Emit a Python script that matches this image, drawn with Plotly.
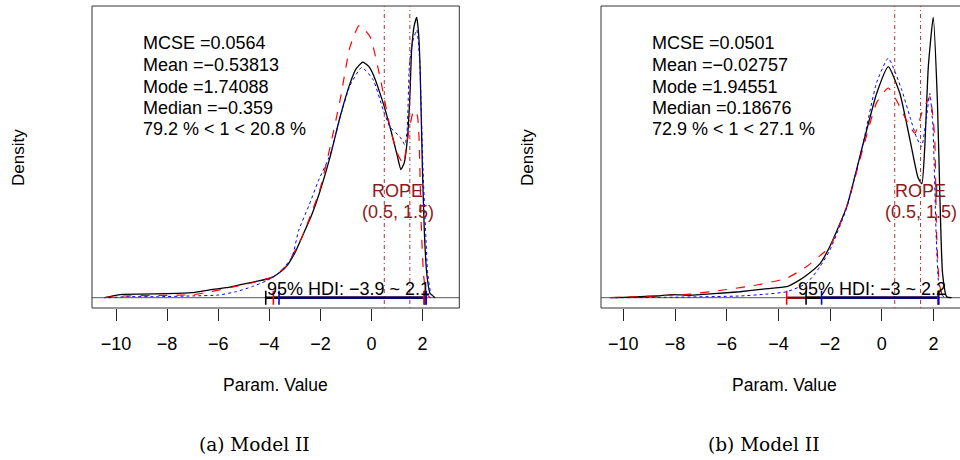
import plotly.graph_objects as go

# ---------------- data: panel (a) ----------------
a_black_x = [-10.45, -10.2, -9.77, -9.0, -8.0, -7.03, -6.37, -5.7, -5.07, -4.55, -3.9, -3.37, -3.0,
             -2.72, -2.35, -2.02, -1.62, -1.23, -0.84, -0.6, -0.34, -0.1, 0.07, 0.46, 0.79, 1.0,
             1.15, 1.28, 1.40, 1.50, 1.57, 1.67, 1.77, 1.84, 1.90, 1.99, 2.07, 2.16, 2.29, 2.49]
a_black_y = [0.0, 0.002, 0.005, 0.0054, 0.006, 0.0075, 0.0115, 0.015, 0.020, 0.024, 0.030, 0.045, 0.067,
             0.091, 0.123, 0.159, 0.211, 0.271, 0.321, 0.343, 0.353, 0.346, 0.334, 0.291, 0.246, 0.214,
             0.192, 0.202, 0.236, 0.300, 0.371, 0.407, 0.420, 0.397, 0.346, 0.196, 0.097, 0.037, 0.0066, 0.0]

a_red_x = [-10.45, -9.77, -8.5, -7.0, -6.37, -5.07, -4.55, -3.9, -3.37, -2.72, -2.02, -1.62, -1.23,
           -0.84, -0.48, -0.06, 0.33, 0.72, 1.0, 1.24, 1.45, 1.62, 1.70, 1.80, 1.86, 1.95, 2.04, 2.15, 2.3]
a_red_y = [0.0, 0.0025, 0.0033, 0.0045, 0.0085, 0.019, 0.0235, 0.031, 0.046, 0.091, 0.162, 0.226, 0.296,
           0.376, 0.408, 0.391, 0.331, 0.256, 0.217, 0.201, 0.247, 0.277, 0.281, 0.272, 0.240, 0.105, 0.033,
           0.006, 0.0]

a_blue_x = [-10.3, -9.5, -8.33, -7.0, -5.98, -5.3, -4.68, -4.1, -3.63, -3.11, -2.85, -2.45, -2.07, -1.62,
            -1.23, -0.84, -0.38, 0.07, 0.46, 0.72, 1.11, 1.31, 1.40, 1.48, 1.60, 1.77, 1.88, 2.01, 2.12,
            2.20, 2.33, 2.5]
a_blue_y = [0.0, 0.0015, 0.0015, 0.0027, 0.004, 0.009, 0.0165, 0.0255, 0.0365, 0.0614, 0.101, 0.138,
            0.176, 0.214, 0.270, 0.318, 0.345, 0.326, 0.281, 0.256, 0.241, 0.229, 0.255, 0.346, 0.382,
            0.401, 0.359, 0.197, 0.097, 0.0365, 0.006, 0.0]

# ---------------- data: panel (b) ----------------
b_black_x = [-10.5, -10.0, -8.71, -8.1, -7.42, -6.5, -5.49, -4.6, -3.68, -3.3, -2.91, -2.39, -2.01,
             -1.36, -0.72, -0.20, 0.25, 0.70, 1.09, 1.40, 1.55, 1.66, 1.80, 1.99, 2.15, 2.25, 2.35,
             2.51, 2.7]
b_black_y = [0.0, 0.0005, 0.0028, 0.005, 0.004, 0.0066, 0.0098, 0.014, 0.018, 0.026, 0.037, 0.056,
             0.084, 0.149, 0.253, 0.335, 0.379, 0.335, 0.259, 0.197, 0.187, 0.246, 0.379, 0.460, 0.324,
             0.160, 0.040, 0.0016, 0.0]

b_red_x = [-10.5, -9.35, -7.42, -6.13, -4.84, -3.68, -2.91, -2.39, -2.01, -1.36, -0.72, -0.2, 0.25,
           0.70, 1.0, 1.28, 1.55, 1.86, 1.98, 2.05, 2.12, 2.22, 2.35, 2.5]
b_red_y = [0.0, 0.0016, 0.006, 0.0126, 0.0208, 0.032, 0.051, 0.069, 0.084, 0.149, 0.246, 0.320, 0.344,
           0.313, 0.287, 0.270, 0.303, 0.330, 0.295, 0.259, 0.106, 0.024, 0.003, 0.0]

b_blue_x = [-10.3, -8.0, -5.49, -4.5, -3.68, -2.91, -2.39, -2.01, -1.36, -0.72, -0.2, 0.25, 0.77, 1.1,
            1.35, 1.54, 1.70, 1.86, 1.98, 2.10, 2.20, 2.35, 2.5]
b_blue_y = [0.0, 0.0008, 0.0028, 0.0057, 0.0098, 0.0236, 0.051, 0.078, 0.147, 0.254, 0.353, 0.393,
            0.341, 0.295, 0.262, 0.248, 0.287, 0.335, 0.279, 0.106, 0.024, 0.003, 0.0]

# ---------------- summaries ----------------
stats_a = ["MCSE =0.0564", "Mean =\u22120.53813", "Mode =1.74088", "Median =\u22120.359",
           "79.2 % < 1 < 20.8 %"]
stats_b = ["MCSE =0.0501", "Mean =\u22120.02757", "Mode =1.94551", "Median =0.18676",
           "72.9 % < 1 < 27.1 %"]
hdi_text = ["95% HDI: \u22123.9 ~ 2.1", "95% HDI: \u22123 ~ 2.2"]
# per-chain HDI limits: (black, red, blue)
hdi_a = {"black": (-4.14, 2.09), "red": (-3.84, 2.05), "blue": (-3.62, 2.14)}
hdi_b = {"black": (-2.93, 2.20), "red": (-3.68, 2.18), "blue": (-2.33, 2.19)}
rope = (0.5, 1.5)
captions = ["(a) Model II", "(b) Model II"]
tick_vals = [-10, -8, -6, -4, -2, 0, 2]
tick_text = ["\u221210", "\u22128", "\u22126", "\u22124", "\u22122", "0", "2"]

W, H = 960, 460
SANS = "Liberation Sans, Arial, sans-serif"
SERIF = "DejaVu Serif, serif"


def px(x):
    return x / W


def py(y):
    return 1 - y / H


fig = go.Figure()

panels = [
    dict(xa="x", ya="y", left=92, right=459.3, xr=[-10.94, 3.436],
         curves=[(a_black_x, a_black_y), (a_red_x, a_red_y), (a_blue_x, a_blue_y)],
         stats=stats_a, hdi=hdi_a, hdit=hdi_text[0], hdix=348.8, ropex=397.5, cap=captions[0],
         capx=254.7),
    dict(xa="x2", ya="y2", left=601, right=968.3, xr=[-10.863, 3.025],
         curves=[(b_black_x, b_black_y), (b_red_x, b_red_y), (b_blue_x, b_blue_y)],
         stats=stats_b, hdi=hdi_b, hdit=hdi_text[1], hdix=872.0, ropex=920.8, cap=captions[1],
         capx=763.7),
]

styles = [dict(color="black", width=1.3, dash="solid"),
          dict(color="red", width=1.2, dash="dash"),
          dict(color="blue", width=1.0, dash="dot")]

annotations = []
shapes = []
top_px, bot_px, base_px, peak_px = 6.0, 308.0, 297.7, 17.3
FS = 18

for i, p in enumerate(panels):
    m = max(p["curves"][0][1])
    # y range so that 0 sits at the baseline and the black peak near the top
    lo = -m * (bot_px - base_px) / (base_px - peak_px)
    hi = m * (base_px - top_px) / (base_px - peak_px)
    for (xs, ys), st in zip(p["curves"], styles):
        fig.add_trace(go.Scatter(x=xs, y=ys, mode="lines", xaxis=p["xa"], yaxis=p["ya"],
                                 line=dict(color=st["color"], width=st["width"], dash=st["dash"],
                                           shape="spline", smoothing=0.5),
                                 showlegend=False, hoverinfo="skip"))
    sfx = "" if i == 0 else "2"
    dom_r = min(1.0, p["right"] / W)
    fig.update_layout(**{
        "xaxis" + sfx: dict(domain=[px(p["left"]), dom_r], range=p["xr"],
                            tickvals=tick_vals, ticktext=tick_text, ticks="outside", ticklen=12,
                            tickcolor="#222", tickwidth=1, showgrid=False, zeroline=False,
                            showline=False, ticklabelstandoff=7,
                            tickfont=dict(family=SANS, size=FS, color="black"),
                            anchor="y" + sfx),
        "yaxis" + sfx: dict(domain=[py(bot_px), py(top_px)], range=[lo, hi], showticklabels=False,
                            ticks="", showgrid=False, zeroline=False, showline=False,
                            anchor="x" + sfx),
    })
    xref, yref = p["xa"], p["ya"]
    # frame
    shapes.append(dict(type="rect", xref="paper", yref="paper", x0=px(p["left"]), x1=px(p["right"]),
                       y0=py(bot_px), y1=py(top_px), line=dict(color="#333", width=1)))
    # zero line
    shapes.append(dict(type="line", xref=xref + " domain", yref=yref, x0=0, x1=1, y0=0, y1=0,
                       line=dict(color="#555", width=1), layer="below"))
    # ROPE limits
    for r in rope:
        shapes.append(dict(type="line", xref=xref, yref=yref + " domain", x0=r, x1=r, y0=0, y1=1,
                           line=dict(color="#a83232", width=1, dash="1px,3px,4px,3px")))
    # HDI segments and end ticks
    seg_colors = {"red": "rgba(120,0,0,0.9)", "black": "black", "blue": "rgba(0,0,255,0.45)"}
    for key in ["red", "black", "blue"]:
        lo_h, hi_h = p["hdi"][key]
        shapes.append(dict(type="line", xref=xref, yref=yref, x0=lo_h, x1=hi_h, y0=0, y1=0,
                           line=dict(color=seg_colors[key], width=2.5)))
    tick_h = m * 7.0 / (base_px - peak_px)
    for key in ["black", "red", "blue"]:
        for v in p["hdi"][key]:
            shapes.append(dict(type="line", xref=xref, yref=yref, x0=v, x1=v, y0=-tick_h, y1=tick_h,
                               line=dict(color=key, width=1.6)))
    # summary text block
    for k, line in enumerate(p["stats"]):
        annotations.append(dict(xref="paper", yref="paper", x=px(p["left"] + 48.5),
                                y=py([43.3, 65.0, 86.7, 107.7, 129.3][k]), text=line, showarrow=False,
                                xanchor="left", yanchor="middle",
                                font=dict(family=SANS, size=FS, color="black")))
    annotations.append(dict(xref="paper", yref="paper", x=px(p["hdix"]), y=py(288.5), text=p["hdit"],
                            showarrow=False, xanchor="center", yanchor="middle",
                            font=dict(family=SANS, size=FS, color="black")))
    annotations.append(dict(xref="paper", yref="paper", x=px(p["ropex"]), y=py(190.5), text="ROPE",
                            showarrow=False, xanchor="center", yanchor="middle",
                            font=dict(family=SANS, size=FS, color="#8b1a1a")))
    annotations.append(dict(xref="paper", yref="paper", x=px(p["ropex"]), y=py(211.5),
                            text="(0.5, 1.5)", showarrow=False, xanchor="center", yanchor="middle",
                            font=dict(family=SANS, size=FS, color="#8b1a1a")))
    # axis titles
    annotations.append(dict(xref="paper", yref="paper", x=px((p["left"] + p["right"]) / 2), y=py(385),
                            text="Param. Value", showarrow=False, xanchor="center", yanchor="middle",
                            font=dict(family=SANS, size=17.5, color="black")))
    annotations.append(dict(xref="paper", yref="paper", x=px(p["left"] - 74), y=py(158),
                            text="Density", showarrow=False, xanchor="center", yanchor="middle",
                            textangle=-90, font=dict(family=SANS, size=17, color="black")))
    # caption
    annotations.append(dict(xref="paper", yref="paper", x=px(p["capx"]), y=py(444.3), text=p["cap"],
                            showarrow=False, xanchor="center", yanchor="middle",
                            font=dict(family=SERIF, size=18.5, color="black")))

fig.update_layout(width=W, height=H, margin=dict(l=0, r=0, t=0, b=0), paper_bgcolor="white",
                  plot_bgcolor="white", shapes=shapes, annotations=annotations)

fig.write_html("out.html")
